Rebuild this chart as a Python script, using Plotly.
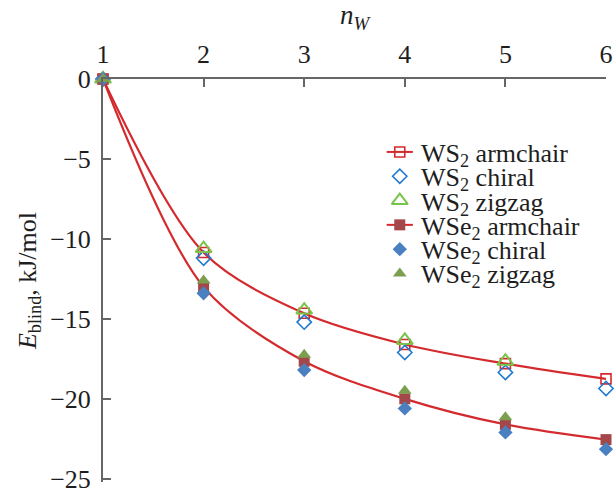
import plotly.graph_objects as go

# Number of W atoms in the cluster
n_w = [1, 2, 3, 4, 5, 6]

# Binding energies, kJ/mol
ws2_armchair = [0.0, -10.85, -14.65, -16.6, -17.8, -18.75]
ws2_chiral = [0.0, -11.2, -15.2, -17.1, -18.35, -19.35]
ws2_zigzag = [0.0, -10.6, -14.45, -16.35, -17.65, None]
wse2_armchair = [0.0, -13.0, -17.65, -20.0, -21.6, -22.55]
wse2_chiral = [0.0, -13.4, -18.2, -20.6, -22.1, -23.15]
wse2_zigzag = [0.0, -12.6, -17.25, -19.5, -21.15, None]

series_names = ["WS<sub>2</sub> armchair", "WS<sub>2</sub> chiral", "WS<sub>2</sub> zigzag",
                "WSe<sub>2</sub> armchair", "WSe<sub>2</sub> chiral", "WSe<sub>2</sub> zigzag"]

RED = "#d42a2e"
FONT = "Liberation Serif, Times New Roman, serif"
TXT = "#1e1e1e"

styles = [
    dict(line=True, marker=dict(symbol="square-open", size=10, color=RED, line=dict(width=1.6, color=RED))),
    dict(line=False, marker=dict(symbol="diamond-open", size=11, color="#1f7ad0", line=dict(width=1.6, color="#1f7ad0"))),
    dict(line=False, marker=dict(symbol="triangle-up-open", size=14, color="#78c44a", line=dict(width=2, color="#78c44a"))),
    dict(line=True, marker=dict(symbol="square", size=11, color="#a4474a")),
    dict(line=False, marker=dict(symbol="diamond", size=11, color="#4a7fc0")),
    dict(line=False, marker=dict(symbol="triangle-up", size=12, color="#7c9f4f")),
]
data = [ws2_armchair, ws2_chiral, ws2_zigzag, wse2_armchair, wse2_chiral, wse2_zigzag]

fig = go.Figure()
for name, ys, st in zip(series_names, data, styles):
    fig.add_trace(go.Scatter(
        x=n_w, y=ys, name=name, showlegend=False,
        mode="lines+markers" if st["line"] else "markers",
        line=dict(color=RED, width=2.2, shape="spline", smoothing=0.9),
        marker=st["marker"], cliponaxis=False))

# Compact legend: keys on an overlay unit axis, labels as annotations
leg_x0, leg_half, leg_tx = 0.590, 0.026, 0.628
leg_y0, leg_dy = 0.819, 0.0603
for i, (name, st) in enumerate(zip(series_names, styles)):
    yk = leg_y0 - i * leg_dy
    if st["line"]:
        fig.add_trace(go.Scatter(
            x=[leg_x0 - leg_half, leg_x0 + leg_half], y=[yk, yk], mode="lines",
            line=dict(color=RED, width=2), xaxis="x2", yaxis="y2",
            showlegend=False, hoverinfo="skip", cliponaxis=False))
    fig.add_trace(go.Scatter(
        x=[leg_x0], y=[yk], mode="markers", marker=st["marker"],
        xaxis="x2", yaxis="y2", showlegend=False, hoverinfo="skip", cliponaxis=False))
    fig.add_annotation(
        x=leg_tx, y=yk, xref="x2", yref="y2", text=name, showarrow=False,
        xanchor="left", yanchor="middle", yshift=-3,
        font=dict(family=FONT, size=26, color=TXT))

fig.update_layout(
    width=616, height=488,
    margin=dict(l=103, r=10, t=79, b=6),
    paper_bgcolor="white", plot_bgcolor="white",
    font=dict(family=FONT, size=26, color=TXT),
    showlegend=False,
    xaxis=dict(
        side="top", range=[1, 6], tickvals=n_w, ticks="inside", ticklen=8,
        tickwidth=1.5, tickcolor="#666", showline=True, linecolor="#666",
        linewidth=2, showgrid=False, zeroline=False, ticklabelstandoff=4,
        tickfont=dict(family=FONT, size=26, color=TXT),
        title=dict(text="<i>n</i><sub><i>W</i></sub>", font=dict(family=FONT, size=27, color=TXT),
                   standoff=8),
        automargin=False),
    yaxis=dict(
        range=[-25.2, 0], tickvals=[0, -5, -10, -15, -20, -25], ticks="inside",
        ticklen=8, tickwidth=1.5, tickcolor="#666", showline=True, linecolor="#666",
        linewidth=2, showgrid=False, zeroline=False, ticklabeloverflow="allow",
        ticklabelstandoff=5,
        tickfont=dict(family=FONT, size=26, color=TXT),
        title=dict(text="<i>E</i><sub>blind</sub>, kJ/mol",
                   font=dict(family=FONT, size=26, color=TXT), standoff=6),
        automargin=False),
    xaxis2=dict(overlaying="x", range=[0, 1], visible=False),
    yaxis2=dict(overlaying="y", range=[0, 1], visible=False),
)

fig.write_html("out.html")
